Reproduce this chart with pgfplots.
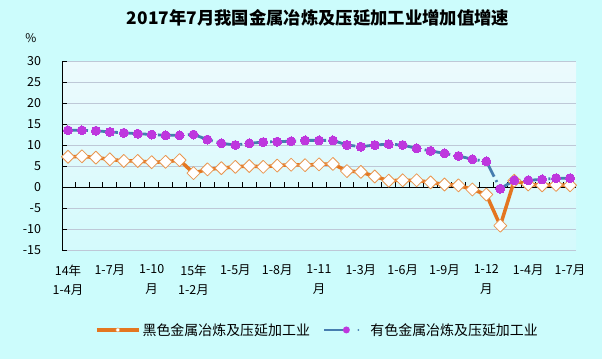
\documentclass[border=0pt]{standalone}
\usepackage{fontspec}
\setmainfont{Noto Sans CJK SC}
\usepackage{pgfplots}
\pgfplotsset{compat=1.18}
\usepackage{pgfplotstable}
\definecolor{bg}{RGB}{204,252,252}
\definecolor{ferrous}{RGB}{228,118,32}
\definecolor{ferrousmk}{RGB}{232,150,80}
\definecolor{nfline}{RGB}{70,125,175}
\definecolor{nfmark}{RGB}{190,55,222}
\definecolor{gridc}{RGB}{190,200,215}

\pgfplotstableread{
i fe nf
0 7.2 13.5
1 7.3 13.5
2 7.0 13.4
3 6.6 13.1
4 6.2 12.9
5 6.2 12.7
6 5.9 12.5
7 6.0 12.3
8 6.4 12.3
9 3.3 12.5
10 4.2 11.3
11 4.5 10.4
12 4.8 10.0
13 5.0 10.4
14 4.8 10.7
15 5.1 10.8
16 5.3 10.9
17 5.2 11.1
18 5.4 11.1
19 5.5 11.1
20 3.8 10.0
21 3.6 9.6
22 2.5 10.0
23 1.5 10.2
24 1.6 10.0
25 1.6 9.2
26 1.1 8.6
27 0.6 8.0
28 0.4 7.4
29 -0.6 6.6
30 -1.8 6.1
31 -9.2 -0.4
32 1.5 1.6
33 0.6 1.6
34 0.4 1.8
35 0.5 2.1
36 0.4 2.1
}\datatable

\begin{document}
\begin{tikzpicture}[x=1bp,y=1bp]
\fill[bg] (0,0) rectangle (602,359);
\node[font=\bfseries\fontsize{17.4}{19}\selectfont] at (318,341) {2017年7月我国金属冶炼及压延加工业增加值增速};
\node[font=\fontsize{12}{14}\selectfont] at (31,321) {\%};
\begin{axis}[
  at={(62bp,109bp)}, anchor=south west,
  scale only axis, width=514bp, height=189bp,
  xmin=-0.43, xmax=36.43, ymin=-15, ymax=30,
  ytick={-15,-10,...,30},
  axis y line*=left, axis x line*=middle,
  x axis line style={-, black, line width=0.9bp},
  y axis line style={-, black, line width=0.9bp},
  xtick={0.5,1.5,...,35.5}, xticklabels={},
  tick align=center, major tick length=5bp,
  x tick style={black, line width=0.8bp, yshift=2.5bp},
  y tick style={black, line width=0.8bp, xshift=2.5bp},
  ymajorgrids, grid style={gridc, line width=0.8bp},
  yticklabel style={font=\fontsize{12.5}{14}\selectfont, xshift=-15bp},
  /pgf/number format/assume math mode=true,
  axis background/.style={shade, top color={rgb,255:red,236;green,250;blue,253}, bottom color={rgb,255:red,212;green,250;blue,252}},
  clip=false,
  legend columns=2,
  legend style={draw=none, fill=none, at={(0.064,-0.423)}, anchor=west, inner sep=0pt,
    font=\fontsize{14}{16}\selectfont,
    /tikz/every even column/.append style={column sep=11bp}},
]
\addplot[ferrous, line width=3.5bp, line join=round, mark=square*, mark size=4.6bp,
  mark options={rotate=45, fill=white, draw=ferrousmk, line width=0.8bp},
  legend image code/.code={\draw[solid, ferrous, line width=3.5bp] (0bp,0bp) -- (42bp,0bp);
    \draw[solid, ferrousmk, fill=white, line width=0.5bp] (21bp,0bp) circle (2bp);}]
  table[x=i,y=fe]{\datatable};
\addlegendentry{黑色金属冶炼及压延加工业}
\addplot[nfline, line width=2.8bp, dash pattern=on 20bp off 4bp on 2bp off 4bp,
  mark=*, mark size=4.5bp, mark options={solid, fill=nfmark, draw=nfmark, line width=0bp},
  legend image code/.code={\draw[solid, nfline, line width=2.8bp] (0bp,0bp) -- (22bp,0bp);
    \fill[solid, nfmark, draw=none] (22bp,0bp) circle (3.5bp); \fill[solid, nfline, draw=none] (34bp,0bp) circle (1bp);
    \path[draw=none, fill=none] (44bp,0bp) circle (0.1bp);}]
  table[x=i,y=nf]{\datatable};
\addlegendentry{有色金属冶炼及压延加工业}
\end{axis}
\begin{axis}[
  at={(62bp,109bp)}, anchor=south west,
  scale only axis, width=514bp, height=189bp,
  xmin=-0.43, xmax=36.43, ymin=-15, ymax=30,
  hide y axis, axis x line*=bottom, x axis line style={draw=none},
  xtick={0,3,...,36}, major tick length=0pt,
  xticklabels={{14年\\1-4月},1-7月,{1-10\\月},{15年\\1-2月},1-5月,1-8月,{1-11\\月},1-3月,1-6月,1-9月,{1-12\\月},1-4月,1-7月},
  xticklabel style={align=center, font=\fontsize{12.5}{20}\selectfont, yshift=-11bp},
]
\end{axis}
\end{tikzpicture}
\end{document}
